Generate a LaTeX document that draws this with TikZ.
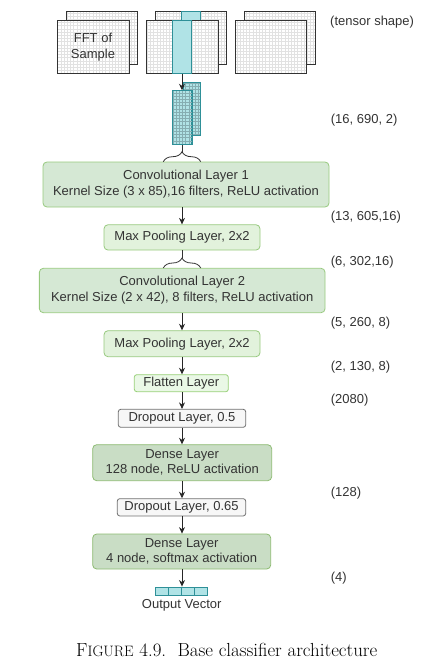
\documentclass[tikz,border=0pt]{standalone}
\usepackage{fontspec}
\setsansfont{Liberation Sans}
\usetikzlibrary{arrows.meta,decorations.pathreplacing}
\definecolor{txt}{HTML}{333333}
\definecolor{convfill}{HTML}{D5E8D4}
\definecolor{convline}{HTML}{97C97E}
\definecolor{poolfill}{HTML}{E2F2DC}
\definecolor{flatfill}{HTML}{EAF8E6}
\definecolor{flatline}{HTML}{97D077}
\definecolor{densefill}{HTML}{C9DDC5}
\definecolor{denseline}{HTML}{8DBB72}
\definecolor{dropfill}{HTML}{F7F7F7}
\definecolor{dropline}{HTML}{707070}
\definecolor{tealfill}{HTML}{B0E3E6}
\definecolor{tealline}{HTML}{2E9098}
\definecolor{tealgrid}{HTML}{86AEB2}
\definecolor{gridgray}{HTML}{E2E2E2}
\newcommand\sheetrect[4]{%
  \fill[white] (#1,#2) rectangle (#3,#4);
  \draw[sheetgrid, step=3.2pt] (#1,#4) grid (#3,#2);
  \draw[sheetline] (#1,#2) rectangle (#3,#4);}
\begin{document}
\begin{tikzpicture}[x=1pt,y=-1pt,
  font=\sffamily\fontsize{13}{16}\selectfont, text=txt,
  box/.style={rounded corners=4pt, inner sep=0pt, align=center, line width=0.8pt},
  convbox/.style={box, fill=convfill, draw=convline},
  poolbox/.style={box, fill=poolfill, draw=convline},
  flatbox/.style={box, rounded corners=2.5pt, fill=flatfill, draw=flatline},
  dropbox/.style={box, rounded corners=2.5pt, fill=dropfill, draw=dropline},
  densebox/.style={box, fill=densefill, draw=denseline, font=\sffamily\fontsize{13}{15.3}\selectfont},
  arr/.style={-{Stealth[length=6.5pt,width=6pt]}, line width=0.8pt, draw=black!85},
  bracestyle/.style={decorate, decoration={brace, amplitude=10pt}, line width=0.8pt, draw=black!80},
  stem/.style={line width=0.8pt, draw=black!80},
  sheetgrid/.style={draw=gridgray, line width=0.3pt},
  sheetline/.style={draw=black!80, line width=0.8pt},
  tealrect/.style={fill=tealfill, draw=tealline, line width=0.8pt},
  lbl/.style={anchor=west, inner sep=0pt}]
\useasboundingbox (0,0) rectangle (426,666);

% input sheets
\sheetrect{66}{11}{137.7}{64}
\sheetrect{57.3}{20}{129}{73.3}
\node[align=center, inner sep=0pt, font=\sffamily\fontsize{13}{15.7}\selectfont] (fft) at (93,47.2) {FFT of\\Sample};

\sheetrect{155}{11}{226.7}{64}
\draw[tealrect] (181.7,11) rectangle (200.3,64);
\sheetrect{146}{20}{218}{73.3}
\node[tealrect, minimum width=19.4pt, minimum height=53.3pt, inner sep=0pt] (col) at (182,46.65) {};

\sheetrect{244.3}{11}{315.7}{64}
\sheetrect{235}{20}{306.7}{73.3}

% convolved slices
\fill[tealfill] (183.3,82.3) rectangle (200.7,135.7);
\draw[draw=tealgrid, line width=0.4pt, step=3.2pt] (183.3,135.7) grid (200.7,82.3);
\draw[tealrect, fill=none] (183.3,82.3) rectangle (200.7,135.7);
\node[tealrect, minimum width=19.4pt, minimum height=53.6pt, inner sep=0pt] (g1) at (182,117.5) {};
\draw[draw=tealgrid, line width=0.4pt, step=3.2pt] (172.3,144.3) grid (191.7,90.7);
\draw[tealrect, fill=none] (g1.north west) rectangle (g1.south east);

% layers
\node[convbox, minimum width=286pt, minimum height=45pt] (conv1) at (186,184.5)
  {Convolutional Layer 1\\Kernel Size (3 x 85),16 filters, ReLU activation};
\node[poolbox, minimum width=156pt, minimum height=25.3pt] (mp1) at (182,237.4) {Max Pooling Layer, 2x2};
\node[convbox, minimum width=285.7pt, minimum height=44.4pt] (conv2) at (182.2,290.5)
  {Convolutional Layer 2\\Kernel Size (2 x 42), 8 filters, ReLU activation};
\node[poolbox, minimum width=156pt, minimum height=26pt] (mp2) at (182,343.7) {Max Pooling Layer, 2x2};
\node[flatbox, minimum width=94pt, minimum height=17pt] (flat) at (181.3,383.2) {Flatten Layer};
\node[dropbox, minimum width=127.4pt, minimum height=18pt] (drop1) at (182,418.3) {Dropout Layer, 0.5};
\node[densebox, minimum width=179pt, minimum height=36pt] (dense1) at (182.2,462.7)
  {Dense Layer\\128 node, ReLU activation};
\node[dropbox, minimum width=128.4pt, minimum height=17.3pt] (drop2) at (181.5,507.3) {Dropout Layer, 0.65};
\node[densebox, minimum width=178pt, minimum height=35pt] (dense2) at (181.7,551.5)
  {Dense Layer\\4 node, softmax activation};
\node[tealrect, minimum width=52.3pt, minimum height=8.7pt, inner sep=0pt] (ov) at (181.2,591.3) {};
\draw[tealline, line width=0.8pt] (168.1,587) -- (168.1,595.7) (181.2,587) -- (181.2,595.7) (194.2,587) -- (194.2,595.7);
\node[inner sep=0pt] (ovlbl) at (181.7,605) {Output Vector};

% braces
\draw[bracestyle] (163.3,161.7) -- (200.7,161.7);
\coordinate (b1tip) at (182,151.7);
\draw[stem] (g1.south) -- (b1tip);
\draw[bracestyle] (163.3,268) -- (200.7,268);
\coordinate (b2tip) at (182,258);
\draw[stem] (mp1.south) -- (b2tip);

% arrows
\draw[arr] (col.south) -- (g1.north);
\draw[arr] (mp1.north |- conv1.south) -- (mp1.north);
\draw[arr] (mp2.north |- conv2.south) -- (mp2.north);
\draw[arr] (mp2.south) -- (mp2.south |- flat.north);
\draw[arr] (mp2.south |- flat.south) -- (mp2.south |- drop1.north);
\draw[arr] (drop1.south) -- (drop1.south |- dense1.north);
\draw[arr] (drop1.south |- dense1.south) -- (drop1.south |- drop2.north);
\draw[arr] (drop1.south |- drop2.south) -- (drop1.south |- dense2.north);
\draw[arr] (drop1.south |- dense2.south) -- (drop1.south |- ov.north);

% shape labels
\node[lbl] (l0) at (330,21.7) {(tensor shape)};
\node[lbl] (l1) at (330.7,120) {(16, 690, 2)};
\node[lbl] (l2) at (330.7,216.7) {(13, 605,16)};
\node[lbl] (l3) at (330.7,261.7) {(6, 302,16)};
\node[lbl] (l4) at (330.7,323.3) {(5, 260, 8)};
\node[lbl] (l5) at (330.7,366.7) {(2, 130, 8)};
\node[lbl] (l6) at (330.7,400) {(2080)};
\node[lbl] (l7) at (330.7,492.7) {(128)};
\node[lbl] (l8) at (330.7,578.3) {(4)};

% caption
\node[anchor=base west, inner sep=0pt, text=black, font=\rmfamily\fontsize{18.9}{22}\selectfont] (cap) at (76,656)
  {F{\fontsize{15.1}{18}\selectfont IGURE} 4.9.\hspace{0.6em}Base classifier architecture};
\end{tikzpicture}
\end{document}
